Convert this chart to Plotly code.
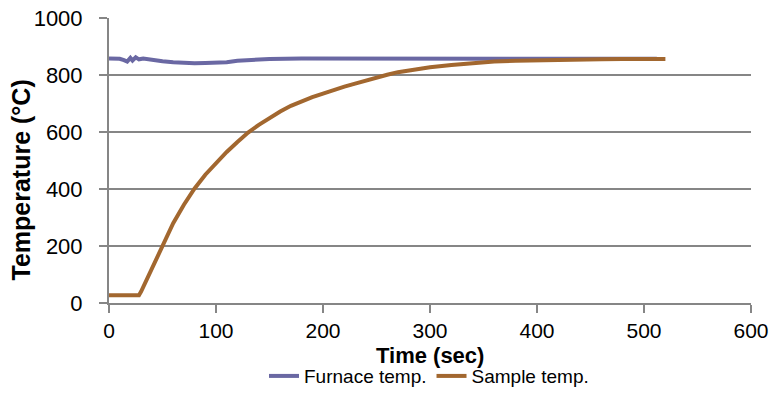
import plotly.graph_objects as go

# Sample temperature
sample_t = [0, 10, 20, 28, 30, 40, 50, 60, 70, 80, 90, 100, 110, 120, 130, 140, 150, 160, 170, 180,
            190, 200, 210, 220, 230, 240, 250, 260, 270, 280, 290, 300, 320, 340, 360, 380, 400, 420,
            440, 460, 480, 500, 520]
sample_T = [27, 27, 26, 27, 40, 122, 205, 280, 345, 402, 450, 492, 530, 565, 598, 625, 650, 672, 692, 708,
            722, 735, 748, 759, 770, 781, 792, 801, 810, 816, 822, 827, 835, 842, 847, 850, 852, 854,
            855, 855, 856, 856, 856]

# Furnace temperature
furnace_t = [0, 5, 10, 14, 17, 20, 22, 25, 28, 32, 40, 50, 60, 70, 80, 90, 100, 110, 120, 130, 150,
             180, 220, 260, 300, 340, 380, 420, 460, 490, 512]
furnace_T = [858, 859, 857, 852, 847, 860, 851, 862, 855, 858, 853, 848, 845, 842, 841, 842, 843, 845,
             850, 853, 856, 858, 858, 859, 858, 858, 858, 858, 857, 858, 857]

x_ticks = [0, 100, 200, 300, 400, 500, 600]
y_ticks = [0, 200, 400, 600, 800, 1000]

FONT = "Liberation Sans, Arial, sans-serif"
GRID = "#868686"

fig = go.Figure()
fig.add_trace(go.Scatter(x=furnace_t, y=furnace_T, mode="lines", name="Furnace temp.",
                         line=dict(color="#6a68a3", width=4)))
fig.add_trace(go.Scatter(x=sample_t, y=sample_T, mode="lines", name="Sample temp.",
                         line=dict(color="#a2672f", width=4)))

fig.update_layout(
    width=773, height=411,
    margin=dict(l=109, r=22, t=18, b=108, autoexpand=False),
    paper_bgcolor="white", plot_bgcolor="white",
    font=dict(family=FONT, size=21, color="black"),
    showlegend=True,
    legend=dict(orientation="h", x=0.555, xanchor="center", xref="container",
                y=0.085, yanchor="middle", yref="container",
                font=dict(size=19), itemwidth=30, tracegroupgap=0),
    annotations=[
        dict(text="<b>Time (sec)</b>", xref="paper", yref="paper", x=0.5, y=-0.135,
             xanchor="center", yanchor="top", showarrow=False, font=dict(size=22)),
        dict(text="<b>Temperature (°C)</b>", xref="paper", yref="paper", x=-0.137, y=0.43,
             xanchor="center", yanchor="middle", textangle=-90, showarrow=False, font=dict(size=25)),
    ],
)
fig.update_xaxes(range=[0, 600], tickvals=x_ticks, showgrid=False, zeroline=False, automargin=False,
                 showline=True, linecolor=GRID, linewidth=2, ticks="outside", ticklen=8,
                 tickcolor=GRID, tickwidth=2, ticklabelstandoff=0)
fig.update_yaxes(range=[0, 1000], tickvals=y_ticks, tickfont=dict(size=22), ticklabelstandoff=12,
                 showgrid=True, gridcolor=GRID, gridwidth=2,
                 zeroline=False, showline=True, linecolor=GRID, linewidth=2, ticks="outside",
                 ticklen=8, tickcolor=GRID, tickwidth=2, automargin=False)

fig.write_html("out.html")
